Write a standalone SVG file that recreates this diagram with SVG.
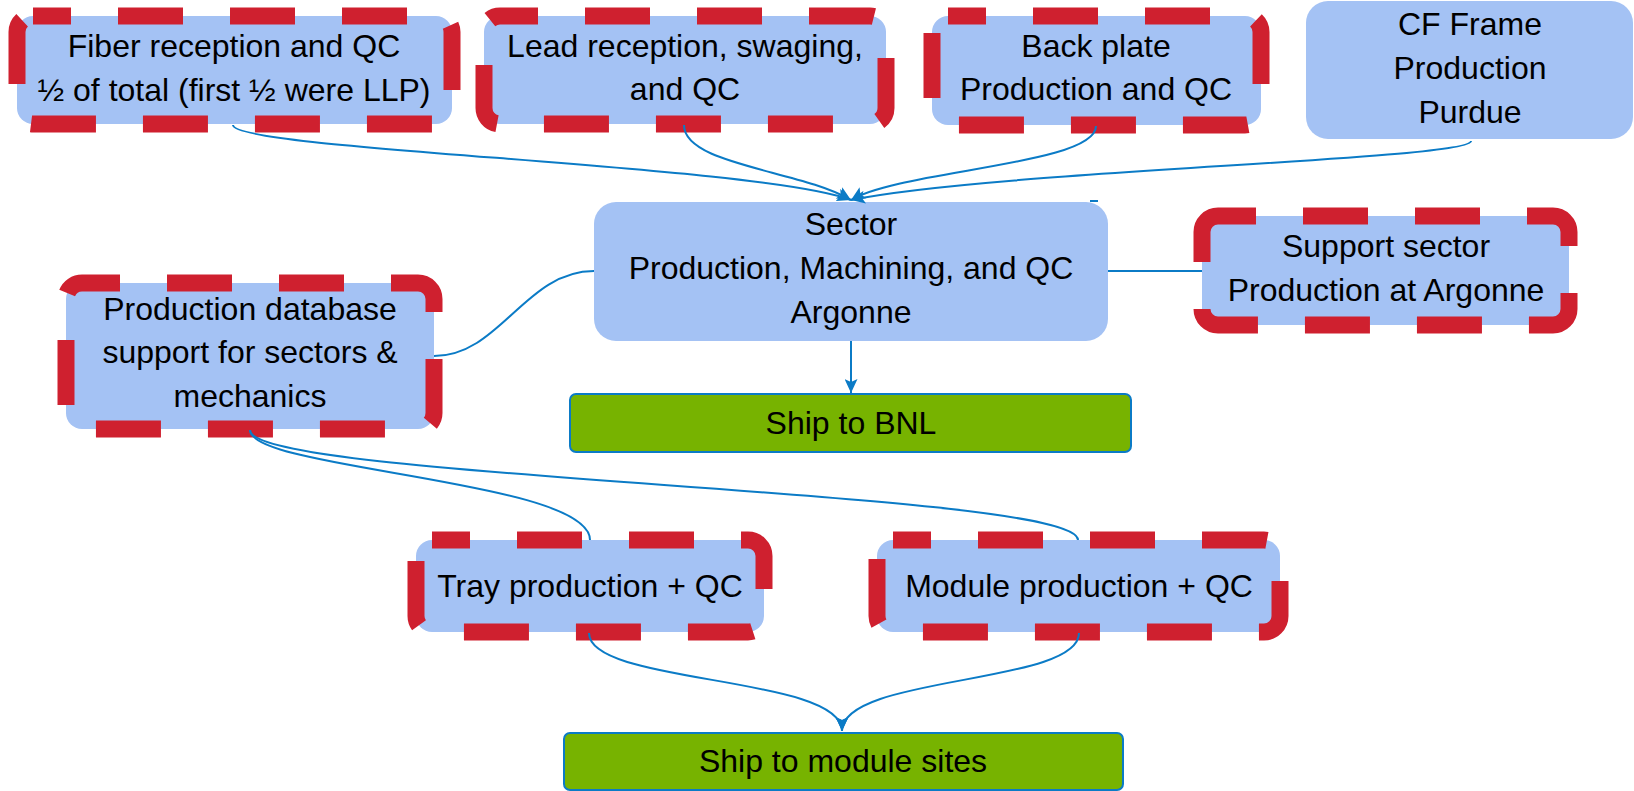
<svg xmlns="http://www.w3.org/2000/svg" width="1634" height="791" viewBox="0 0 1634 791">
<defs>
<style>
.box{fill:#A4C2F4;}
.dash{fill:#A4C2F4;stroke:#CF202F;stroke-width:17;stroke-dasharray:65 47;stroke-dashoffset:27;}
.ship{fill:#77B300;stroke:#0B7BC6;stroke-width:2;}
.t{font-family:"Liberation Sans",Arial,sans-serif;font-size:32px;fill:#000;text-anchor:middle;}
.c{fill:none;stroke:#0B7BC6;stroke-width:2;}
.a{marker-end:url(#arr);}
</style>
<marker id="arr" markerUnits="userSpaceOnUse" markerWidth="15" markerHeight="13" refX="14" refY="6.5" orient="auto">
<path d="M0,0 L14,6.5 L0,13 L3,6.5 Z" fill="#0B7BC6"/>
</marker>
</defs>

<g id="fiber">
<rect class="dash" x="17" y="16" width="435" height="108" rx="16"/>
<text class="t" x="234" y="57">Fiber reception and QC</text>
<text class="t" x="234" y="101">½ of total (first ½ were LLP)</text>
</g>
<g id="lead">
<rect class="dash" x="484" y="16" width="402" height="108" rx="16"/>
<text class="t" x="685" y="57">Lead reception, swaging,</text>
<text class="t" x="685" y="100">and QC</text>
</g>
<g id="backplate">
<rect class="dash" x="932" y="16" width="329" height="109" rx="16"/>
<text class="t" x="1096" y="57">Back plate</text>
<text class="t" x="1096" y="100">Production and QC</text>
</g>
<g id="cfframe">
<rect class="box" x="1306" y="1" width="327" height="138" rx="22"/>
<text class="t" x="1470" y="35">CF Frame</text>
<text class="t" x="1470" y="79">Production</text>
<text class="t" x="1470" y="123">Purdue</text>
</g>
<g id="sector">
<rect class="box" x="594" y="202" width="514" height="139" rx="22"/>
<text class="t" x="851" y="235">Sector</text>
<text class="t" x="851" y="279">Production, Machining, and QC</text>
<text class="t" x="851" y="323">Argonne</text>
</g>
<g id="support">
<rect class="dash" x="1202" y="216" width="367" height="109" rx="16"/>
<text class="t" x="1386" y="257">Support sector</text>
<text class="t" x="1386" y="301">Production at Argonne</text>
</g>
<g id="database">
<rect class="dash" x="66" y="283" width="368" height="146" rx="16"/>
<text class="t" x="250" y="320">Production database</text>
<text class="t" x="250" y="363">support for sectors &amp;</text>
<text class="t" x="250" y="407">mechanics</text>
</g>
<g id="shipbnl">
<rect class="ship" x="570" y="394" width="561" height="58" rx="6"/>
<text class="t" x="851" y="434">Ship to BNL</text>
</g>
<g id="tray">
<rect class="dash" x="416" y="540" width="348" height="92" rx="16"/>
<text class="t" x="590" y="597">Tray production + QC</text>
</g>
<g id="module">
<rect class="dash" x="877" y="540" width="403" height="92" rx="16"/>
<text class="t" x="1079" y="597">Module production + QC</text>
</g>
<g id="shipmodule">
<rect class="ship" x="564" y="733" width="559" height="57" rx="6"/>
<text class="t" x="843" y="772">Ship to module sites</text>
</g>

<g id="connectors">
<path class="c a" d="M233,125 C233,150 760,165 851,200"/>
<path class="c a" d="M684,125 C684,165 800,170 851,200"/>
<path class="c a" d="M1096,126 C1096,165 900,170 851,200"/>
<path class="c a" d="M1471,141 C1471,160 1000,170 851,200"/>
<path class="c a" d="M851,341 L851,393"/>
<path class="c" d="M434,356 C500,356 525,271 594,271"/>
<path class="c" d="M1108,271 L1202,271"/>
<path class="c" d="M1090,201 L1098,201"/>
<path class="c" d="M250,430 C250,470 590,480 590,540"/>
<path class="c" d="M250,430 C250,480 1078,490 1078,540"/>
<path class="c a" d="M589,633 C589,685 842,675 842,731"/>
<path class="c a" d="M1079,633 C1079,685 842,675 842,731"/>
</g>
</svg>
